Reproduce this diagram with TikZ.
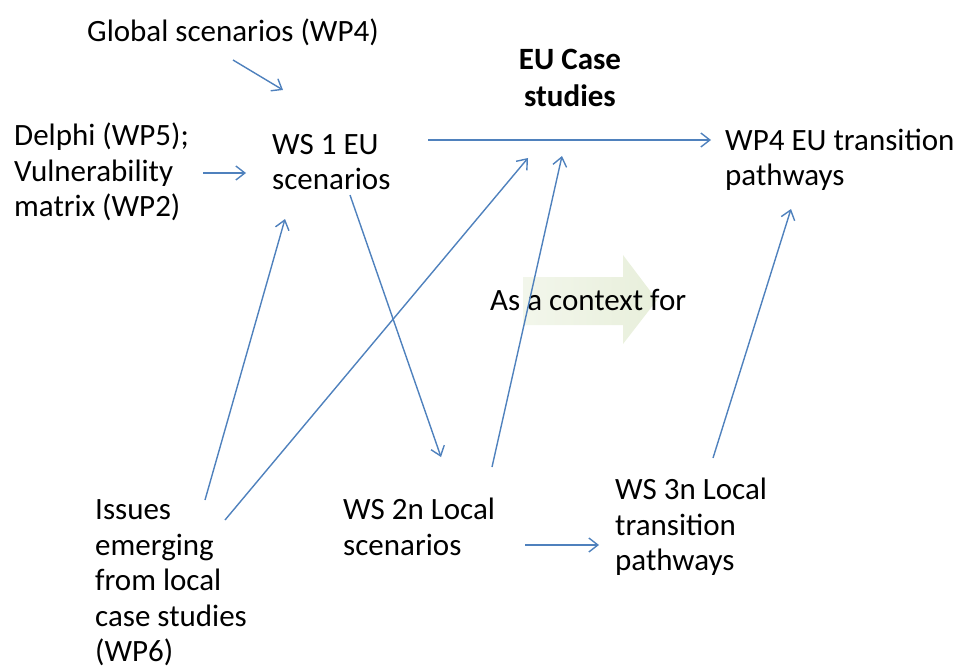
\documentclass[tikz,border=0pt]{standalone}
\usepackage{fontspec}
\setmainfont{Carlito}
\usetikzlibrary{arrows.meta}
\definecolor{lblue}{RGB}{79,129,189}
\definecolor{pgreen}{RGB}{232,239,219}
\begin{document}
\begin{tikzpicture}[x=1pt,y=-1pt,
  lbl/.style={inner sep=0pt,anchor=west,align=left,font=\fontsize{31}{35.5}\selectfont},
  conn/.style={draw=lblue,line width=1.4pt,-{Straight Barb[length=9pt,width=14pt,line width=1.4pt]}}]
\useasboundingbox (0,0) rectangle (957,671);
% green context arrow
\shade[left color=pgreen!55!white, right color=pgreen]
  (523,277) -- (623,277) -- (623,255) -- (657,300) -- (623,344) -- (623,325) -- (523,325) -- cycle;
\node[lbl] (glob) at (87,32) {Global scenarios (WP4)};
\node[lbl,font=\fontsize{31}{37}\bfseries\selectfont,align=center,anchor=center] (eu) at (570,78) {EU Case\\studies};
\node[lbl] (delphi) at (14,172) {Delphi (WP5);\\Vulnerability\\matrix (WP2)};
\node[lbl] (ws1) at (272,162) {WS 1 EU\\scenarios};
\node[lbl] (wp4) at (725,160) {WP4 EU transition\\pathways};
\node[lbl] (asctx) at (490,300) {As a context for};
\node[lbl] (issues) at (95,583) {Issues\\emerging\\from local\\case studies\\(WP6)};
\node[lbl] (ws2) at (343,527) {WS 2n Local\\scenarios};
\node[lbl] (ws3) at (615,527) {WS 3n Local\\transition\\pathways};
% endpoints
\coordinate (g1) at (233,60);  \coordinate (g2) at (283,90);
\coordinate (d1) at (203,173); \coordinate (d2) at (246,173);
\coordinate (w1) at (428,140); \coordinate (w2) at (711,140);
\coordinate (s1) at (350,195); \coordinate (s2) at (441,457);
\coordinate (i1) at (205,500); \coordinate (i2) at (285,219);
\coordinate (j1) at (225,520); \coordinate (j2) at (528,158);
\coordinate (k1) at (492,467); \coordinate (k2) at (562,156);
\coordinate (m1) at (525,545); \coordinate (m2) at (599,545);
\coordinate (n1) at (713,458); \coordinate (n2) at (791,209);
\draw[conn] (g1) -- (g2);
\draw[conn] (d1) -- (d2);
\draw[conn] (w1) -- (w2);
\draw[conn] (s1) -- (s2);
\draw[conn] (i1) -- (i2);
\draw[conn] (j1) -- (j2);
\draw[conn] (k1) -- (k2);
\draw[conn] (m1) -- (m2);
\draw[conn] (n1) -- (n2);
\end{tikzpicture}
\end{document}
